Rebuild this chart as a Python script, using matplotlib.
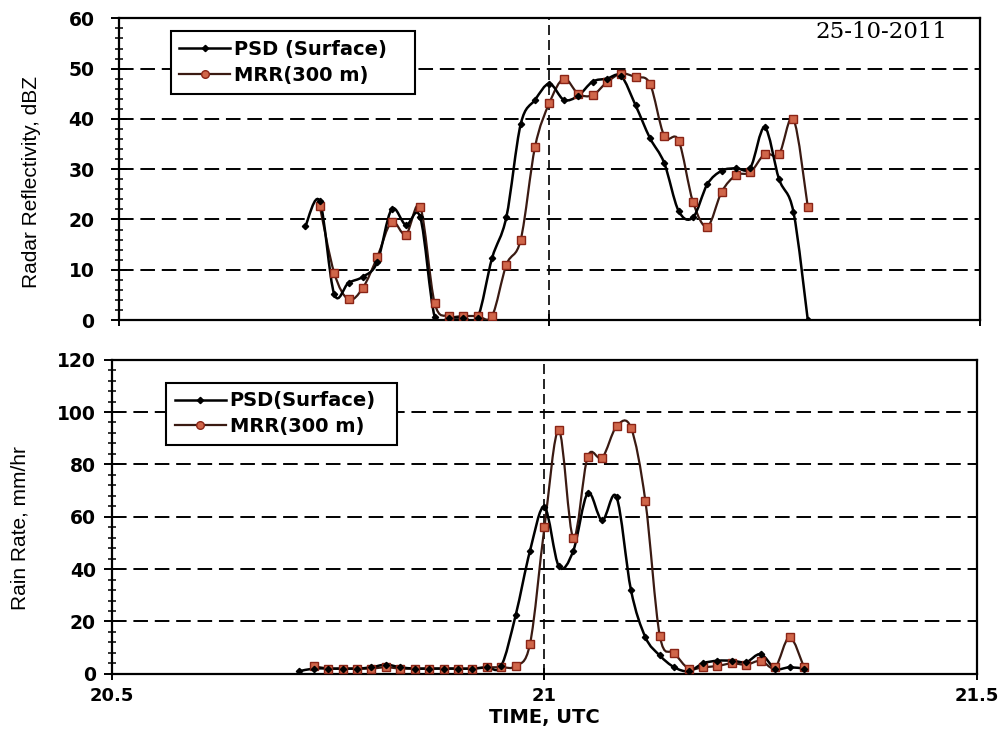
import numpy as np
import matplotlib
matplotlib.use("Agg")
import matplotlib.pyplot as plt
from matplotlib.path import Path
from matplotlib.patches import PathPatch
from matplotlib.ticker import MultipleLocator
from matplotlib.lines import Line2D

# ---------------- data (time = minutes after 20 UTC, one sample per minute) ----------------
psd_minutes = list(range(43, 79))
mrr_minutes = list(range(44, 79))

# Radar reflectivity, dBZ
psd_dbz = [18.7, 23.6, 5.2, 7.4, 8.6, 11.5, 22.0, 18.9, 20.4, 0.7,
           0.5, 0.5, 0.5, 12.3, 20.5, 39.0, 43.8, 47.0, 43.8, 44.6,
           47.4, 48.0, 48.5, 42.7, 36.2, 31.2, 21.7, 20.4, 27.0, 29.7,
           30.2, 30.3, 38.3, 28.0, 21.5, 0.0]
mrr_dbz = [22.6, 9.4, 4.1, 6.4, 12.5, 19.5, 17.0, 22.5, 3.4, 0.8,
           0.8, 0.8, 0.8, 11.0, 16.0, 34.5, 43.2, 48.0, 45.0, 44.7,
           47.3, 49.0, 48.3, 47.0, 36.6, 35.7, 23.5, 18.6, 25.5, 28.8,
           29.4, 33.0, 33.0, 40.0, 22.5]

# Rain rate, mm/hr
psd_rr = [1.0, 2.0, 2.0, 2.0, 2.0, 2.5, 3.5, 2.5, 2.0, 2.0,
          2.0, 2.0, 2.0, 2.5, 3.0, 22.3, 47.0, 63.7, 41.0, 47.0,
          69.0, 58.6, 67.5, 32.0, 14.0, 7.0, 2.5, 1.0, 4.0, 5.0,
          5.0, 4.5, 7.5, 2.0, 2.5, 2.0]
mrr_rr = [3.0, 2.0, 2.0, 2.0, 2.0, 2.5, 2.0, 2.0, 2.0, 2.0,
          2.0, 2.0, 2.5, 2.5, 3.0, 11.5, 56.0, 93.0, 52.0, 83.0,
          82.5, 94.5, 94.0, 66.0, 14.5, 8.0, 2.0, 2.5, 3.0, 4.0,
          3.5, 5.0, 2.5, 14.0, 2.5]

top_legend_labels = ["PSD (Surface)", "MRR(300 m)"]
bottom_legend_labels = ["PSD(Surface)", "MRR(300 m)"]
x_ticks = [20.5, 21, 21.5]
x_ticklabels = ["20.5", "21", "21.5"]
date_text = "25-10-2011"

psd_t = 20 + np.array(psd_minutes) / 60.0
mrr_t = 20 + np.array(mrr_minutes) / 60.0

# ---------------- styling ----------------
PSD_LINE = "black"
MRR_LINE = "#3a1a12"
MRR_FACE = "#d0664a"
MRR_EDGE = "#8a2416"
LABEL_FONT = "Liberation Sans"


def smooth_path(x, y):
    """Excel-like smoothed line through the points (cubic Bezier segments)."""
    pts = np.column_stack([x, y]).astype(float)
    n = len(pts)
    verts = [pts[0]]
    codes = [Path.MOVETO]
    for i in range(n - 1):
        p0 = pts[i - 1] if i > 0 else pts[i]
        p1 = pts[i]
        p2 = pts[i + 1]
        p3 = pts[i + 2] if i + 2 < n else pts[i + 1]
        c1 = p1 + (p2 - p0) / 6.0
        c2 = p2 - (p3 - p1) / 6.0
        verts += [c1, c2, p2]
        codes += [Path.CURVE4] * 3
    return Path(verts, codes)


def draw_series(ax, t, v, kind):
    if kind == "psd":
        patch = PathPatch(smooth_path(t, v), facecolor="none", edgecolor=PSD_LINE,
                          lw=1.8, zorder=4)
        ax.add_patch(patch)
        ax.plot(t, v, ls="none", marker="D", ms=3.2, color="black", zorder=5)
    else:
        patch = PathPatch(smooth_path(t, v), facecolor="none", edgecolor=MRR_LINE,
                          lw=1.6, zorder=3)
        ax.add_patch(patch)
        ax.plot(t, v, ls="none", marker="s", ms=5.5, mfc=MRR_FACE, mec=MRR_EDGE,
                mew=1.0, zorder=4)


def style_axes(ax, ymax, ymajor, yminor, grid_vals, ypad):
    ax.set_xlim(20.5, 21.5)
    ax.set_ylim(0, ymax)
    for s in ax.spines.values():
        s.set_linewidth(1.6)
        s.set_color("black")
    ax.yaxis.set_major_locator(MultipleLocator(ymajor))
    ax.yaxis.set_minor_locator(MultipleLocator(yminor))
    ax.set_xticks(x_ticks)
    ax.tick_params(axis="y", which="major", direction="inout", length=11, width=1.4,
                   labelsize=13.5, pad=ypad)
    ax.tick_params(axis="y", which="minor", direction="inout", length=6, width=1.1)
    ax.tick_params(axis="x", which="major", direction="inout", length=9, width=1.4)
    for lab in ax.get_yticklabels():
        lab.set_fontfamily("DejaVu Sans")
        lab.set_fontweight("bold")
    for g in grid_vals:
        ax.axhline(g, color="black", lw=1.4, ls=(0, (7.5, 3.5)), zorder=1)
    ax.axvline(21, color="black", lw=1.2, ls=(0, (6, 3)), zorder=1)


fig = plt.figure(figsize=(9.99, 7.34), dpi=100)
ax1 = fig.add_axes([0.119, 0.564, 0.862, 0.411])
ax2 = fig.add_axes([0.112, 0.082, 0.866, 0.428])

# ---- top: reflectivity ----
style_axes(ax1, 60, 10, 2, [10, 20, 30, 40, 50], ypad=12)
draw_series(ax1, psd_t, psd_dbz, "psd")
draw_series(ax1, mrr_t, mrr_dbz, "mrr")
ax1.set_xticklabels([])
ax1.set_ylabel("Radar Reflectivity, dBZ", fontsize=15, family=LABEL_FONT)
ax1.yaxis.set_label_coords(-0.090, 0.457)
ax1.text(0.885, 0.955, date_text, transform=ax1.transAxes, ha="center", va="center",
         fontsize=16.5, family="DejaVu Serif")

# ---- bottom: rain rate ----
style_axes(ax2, 120, 20, 4, [20, 40, 60, 80, 100], ypad=6)
draw_series(ax2, psd_t, psd_rr, "psd")
draw_series(ax2, mrr_t, mrr_rr, "mrr")
ax2.set_xticklabels(x_ticklabels)
for lab in ax2.get_xticklabels():
    lab.set_fontfamily("DejaVu Sans")
    lab.set_fontweight("bold")
    lab.set_fontsize(13)
ax2.tick_params(axis="x", pad=5)
ax2.set_ylabel("Rain Rate, mm/hr", fontsize=15, family=LABEL_FONT)
ax2.yaxis.set_label_coords(-0.095, 0.465)
ax2.set_xlabel("TIME, UTC", fontsize=14, family="DejaVu Sans", weight="bold", labelpad=2)


def legend_handles():
    h1 = Line2D([], [], color=PSD_LINE, lw=1.8, marker="D", ms=3.2, mfc="black")
    h2 = Line2D([], [], color=MRR_LINE, lw=1.6, marker="o", ms=5.5, mfc=MRR_FACE,
                mec=MRR_EDGE)
    return [h1, h2]


for ax, labels, anchor in [(ax1, top_legend_labels, (0.060, 0.748, 0.284, 0.209)),
                           (ax2, bottom_legend_labels, (0.063, 0.726, 0.267, 0.201))]:
    leg = ax.legend(legend_handles(), labels, loc="upper left", bbox_to_anchor=anchor,
                    mode="expand", frameon=True, fancybox=False, shadow=False,
                    handlelength=2.6, handletextpad=0.2, borderpad=0.45,
                    labelspacing=0.35, borderaxespad=0.0,
                    prop=dict(family="DejaVu Sans", weight="bold", size=14))
    leg.get_frame().set_edgecolor("black")
    leg.get_frame().set_linewidth(1.5)
    leg.get_frame().set_alpha(1)
    leg.set_zorder(10)

fig.savefig("out.png", dpi=100, facecolor="white")
